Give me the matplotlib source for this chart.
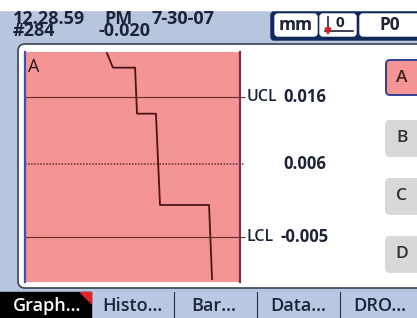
import matplotlib
matplotlib.use("Agg")
import matplotlib.pyplot as plt
from matplotlib.patches import Rectangle, FancyBboxPatch, Polygon

# ------------------ DATOS ------------------
# traza de la medición (x = posición de la muestra en %, y = valor en mm)
traza_x = [38.1, 40.9, 51.2, 52.1, 60.9, 62.8, 85.6, 87.0]
traza_y = [0.0226, 0.0204, 0.0204, 0.0135, 0.0135, -0.0002, -0.0002, -0.0113]

limites_nombres = ["UCL", "", "LCL"]
limites_valores = [0.016, 0.006, -0.005]
limites_textos = ["0.016", "0.006", "-0.005"]

botones = ["A", "B", "C", "D"]
pestanas = ["Graph...", "Histo...", "Bar...", "Data...", "DRO..."]

cabecera_1 = ["12.28.59", "PM", "7-30-07"]
cabecera_2 = ["#284", "-0.020"]
# --------------------------------------------

W, H = 417, 318
ROSA = "#f49494"
FONDO = "#b7c5de"
AZUL_OSC = "#10295a"
TEXTO = "#1d2438"

plt.rcParams["font.family"] = ["Open Sans", "DejaVu Sans"]

fig = plt.figure(figsize=(W / 100, H / 100), dpi=100)
fondo = fig.add_axes([0, 0, 1, 1])
fondo.set_xlim(0, W)
fondo.set_ylim(H, 0)
fondo.axis("off")

# fondo general
fondo.add_patch(Rectangle((0, 0), W, H, color=FONDO, zorder=0))
fondo.add_patch(Rectangle((0, 0), W, 10, color="white", zorder=1))

# cabecera (las dos líneas van muy juntas, como en la pantalla)
for txt, x in zip(cabecera_1, [13, 104, 152]):
    fondo.text(x, 19, txt, fontsize=13, fontweight="bold", color=TEXTO,
               va="center", ha="left")
for txt, x in zip(cabecera_2, [13, 99]):
    fondo.text(x, 31, txt, fontsize=13, fontweight="bold", color=TEXTO,
               va="center", ha="left")

# caja azul con unidades
fondo.add_patch(FancyBboxPatch((271, 12), 160, 28, boxstyle="round,pad=0,rounding_size=3",
                               fc=AZUL_OSC, ec=AZUL_OSC, zorder=2))
for x0, x1 in [(275, 317), (320, 356), (360, 425)]:
    fondo.add_patch(FancyBboxPatch((x0, 14), x1 - x0, 22, boxstyle="round,pad=0,rounding_size=3",
                                   fc="white", ec="white", zorder=3))
fondo.text(296, 25, "mm", fontsize=12.5, fontweight="bold", color=TEXTO, ha="center", va="center", zorder=4)
fondo.text(340, 23, "0", fontsize=11, fontweight="bold", color=TEXTO, ha="center", va="center", zorder=4)
fondo.plot([328, 328], [17, 32], color=TEXTO, lw=1.2, zorder=4)
fondo.plot([325, 353], [31, 31], color=TEXTO, lw=1.2, zorder=4)
fondo.add_patch(Polygon([[325, 28], [331, 28], [328, 34]], color="#d0202a", zorder=5))
fondo.text(390, 25, "P0", fontsize=12.5, fontweight="bold", color=TEXTO, ha="center", va="center", zorder=4)

# panel blanco principal
fondo.add_patch(FancyBboxPatch((18, 44), 420, 244, boxstyle="round,pad=0,rounding_size=7",
                               fc="white", ec="#3b4252", lw=1.2, zorder=2))

# botones A-D
for letra, y0 in zip(botones, [60, 121, 179, 237]):
    if letra == "A":
        fc, ec = ROSA, "#34408f"
    else:
        fc, ec = "#d8d8d8", "#d8d8d8"
    fondo.add_patch(FancyBboxPatch((386, y0), 40, 35, boxstyle="round,pad=0,rounding_size=4",
                                   fc=fc, ec=ec, lw=1.4, zorder=3))
    fondo.text(402, y0 + 17.5, letra, fontsize=12.5, fontweight="semibold",
               color="#3a2222" if letra == "A" else "#2e2e2e",
               ha="center", va="center", zorder=4)

# pestañas inferiores
fondo.add_patch(Rectangle((0, 292), W, 26, color="#b9c8e3", zorder=2))
fondo.add_patch(Rectangle((0, 292), 91, 26, color="black", zorder=3))
fondo.add_patch(Polygon([[80, 292], [91, 292], [91, 303]], color="#e0202a", zorder=4))
for x in [174, 257, 340]:
    fondo.plot([x, x], [292, 318], color="#2a3040", lw=0.8, zorder=4)
for txt, xc in zip(pestanas, [47, 132, 214, 298, 380]):
    fondo.text(xc, 306, txt, fontsize=13, fontweight="semibold",
               color="white" if txt.startswith("Graph") else TEXTO,
               ha="center", va="center", zorder=5)

# ------------------ GRÁFICA ------------------
ax = fig.add_axes([25 / W, (H - 282) / H, 215 / W, 230 / H])
ax.set_facecolor(ROSA)
ax.set_xlim(0, 100)
ax.set_ylim(-0.01175, 0.02275)
ax.set_xticks([])
ax.set_yticks([])
for lado in ["top", "bottom"]:
    ax.spines[lado].set_visible(False)
ax.spines["left"].set_color("#3e50b0")
ax.spines["left"].set_linewidth(1.6)
ax.spines["right"].set_color("#7a2e48")
ax.spines["right"].set_linewidth(1.6)

for nombre, val, txt in zip(limites_nombres, limites_valores, limites_textos):
    estilo = (0, (1, 1)) if nombre == "" else "-"
    ax.hlines(val, 0, 102.5, colors="#6e2a2a", lw=1.1 if nombre == "" else 0.8,
              linestyles=estilo, clip_on=False)
    if nombre:
        ax.annotate(nombre, (102.5, val), xytext=(1, 0), textcoords="offset points",
                    fontsize=11.5, fontweight="semibold", color=TEXTO, ha="left", va="center",
                    annotation_clip=False)
    desplaz = 25 if txt.startswith("-") else 27.5
    ax.annotate(txt, (102.5, val), xytext=(desplaz, 0), textcoords="offset points",
                fontsize=12, fontweight="bold", color=TEXTO, ha="left", va="center",
                annotation_clip=False)

ax.plot(traza_x, traza_y, color="#4a1616", lw=1.3)
ax.text(0.015, 0.975, "A", transform=ax.transAxes, fontsize=13, color="#2a1a1a",
        ha="left", va="top")

fig.savefig("out.png", dpi=100)
